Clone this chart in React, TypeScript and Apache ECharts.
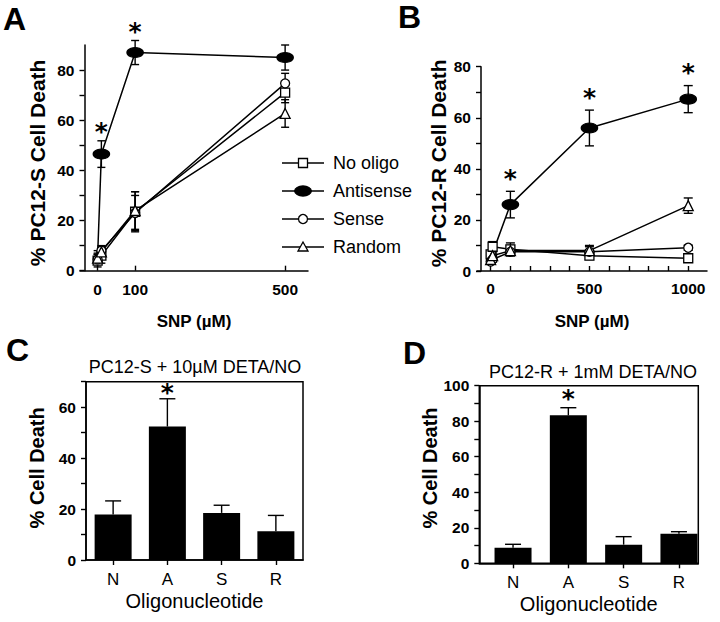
import React, { useEffect, useRef } from 'react';
import * as echarts from 'echarts';

const FONT = '"Liberation Sans", Arial, Helvetica, sans-serif';

// ---------- Panel A: PC12-S, SNP dose ----------
const snpA = [0, 10, 100, 500];
const aNoOligo = [4, 6, 23.5, 71];
const aNoOligoErr = [2.5, 3, 8, 4];
const aAntisense = [6, 46.5, 87, 85];
const aAntisenseErr = [2, 5.3, 4.8, 5];
const aSense = [4.5, 8, 23, 74.7];
const aSenseErr = [2, 2, 7, 4];
const aRandom = [5, 7.5, 24, 62.7];
const aRandomErr = [2, 2, 7.5, 5.5];
const aStarX = [10, 100];
const aAntisenseCoveredX = [0];

// ---------- Panel B: PC12-R, SNP dose ----------
const snpB = [0, 10, 100, 500, 1000];
const bNoOligo = [6.5, 9.5, 8.5, 6, 5];
const bNoOligoErr = [1.5, 2, 2.5, 1.5, 1.5];
const bAntisense = [5, 7, 26, 56, 67.3];
const bAntisenseErr = [1, 1, 5.2, 7, 5.3];
const bSense = [3.7, 4.5, 7.5, 7.5, 9.1];
const bSenseErr = [1, 1, 1.5, 2, 1];
const bRandom = [4.5, 6, 8, 8, 25.6];
const bRandomErr = [1, 1, 2, 2, 3];
const bStarX = [100, 500, 1000];
const bAntisenseCoveredX = [0, 10];

// ---------- Panels C, D: oligonucleotide bars ----------
const oligoCats = ['N', 'A', 'S', 'R'];
const cValues = [17.9, 52.4, 18.5, 11.3];
const cErr = [5.3, 10.9, 3.0, 6.2];
const dValues = [8.8, 83.3, 10.5, 16.7];
const dErr = [1.9, 4.3, 4.5, 1.1];
const starCat = ['A'];

// ---------- tick values ----------
const aXTicks = [0, 100, 500];
const aYLabels = [0, 20, 40, 60, 80];
const aYTicks = [0, 10, 20, 30, 40, 50, 60, 70, 80];
const bXLabels = [0, 500, 1000];
const bXTicks = [0, 100, 200, 300, 400, 500, 600, 700, 800, 900, 1000];
const bYLabels = [0, 20, 40, 60, 80];
const bYTicks = [0, 10, 20, 30, 40, 50, 60, 70, 80];
const cYLabels = [0, 20, 40, 60];
const cYTicks = [0, 10, 20, 30, 40, 50, 60, 70];
const dYLabels = [0, 20, 40, 60, 80, 100];
const dYTicks = [0, 10, 20, 30, 40, 50, 60, 70, 80, 90, 100];
const catIdx = [0, 1, 2, 3];

const seriesNames = ['No oligo', 'Antisense', 'Sense', 'Random'];

const BLACK = '#000';

const symbolSpec: any[] = [
  { symbol: 'rect', size: 9, fill: '#fff' },
  { symbol: 'circle', size: [16, 10], fill: '#000' },
  { symbol: 'circle', size: 9, fill: '#fff' },
  { symbol: 'triangle', size: 10, fill: '#fff' },
];

function lineSeries(idx: number, name: string, xs: number[], ys: number[], k: number, covered: number[]) {
  const s = symbolSpec[k];
  return {
    type: 'line',
    name,
    xAxisIndex: idx,
    yAxisIndex: idx,
    data: xs.map((x, i) =>
      covered.includes(x) ? { value: [x, ys[i]], symbolSize: 0 } : { value: [x, ys[i]] }
    ),
    symbol: s.symbol,
    symbolSize: s.size,
    showSymbol: true,
    z: k === 1 ? 3 : 4,
    lineStyle: { color: BLACK, width: 1.5 },
    itemStyle: { color: s.fill, borderColor: BLACK, borderWidth: 1.3 },
    silent: true,
  };
}

function errSeries(idx: number, xs: number[], ys: number[], es: number[], capW: number, both: boolean) {
  return {
    type: 'custom',
    xAxisIndex: idx,
    yAxisIndex: idx,
    silent: true,
    z: 2,
    data: xs.map((x, i) => [x, ys[i], es[i]]),
    encode: { x: 0, y: 1 },
    renderItem: (_params: any, api: any) => {
      const x = api.value(0);
      const y = api.value(1);
      const e = api.value(2);
      const top = api.coord([x, y + e]);
      const bot = api.coord([x, both ? y - e : y]);
      const h = capW / 2;
      const style = { stroke: BLACK, lineWidth: 1.4, fill: null };
      const children: any[] = [
        { type: 'line', shape: { x1: top[0], y1: top[1], x2: bot[0], y2: bot[1] }, style },
        { type: 'line', shape: { x1: top[0] - h, y1: top[1], x2: top[0] + h, y2: top[1] }, style },
      ];
      if (both) {
        children.push({ type: 'line', shape: { x1: bot[0] - h, y1: bot[1], x2: bot[0] + h, y2: bot[1] }, style });
      }
      return { type: 'group', children };
    },
  };
}

function starSeries(idx: number, pts: number[][], dy: number) {
  return {
    type: 'scatter',
    xAxisIndex: idx,
    yAxisIndex: idx,
    silent: true,
    clip: false,
    z: 6,
    data: pts,
    symbol: 'circle',
    symbolSize: 0.1,
    itemStyle: { color: BLACK, opacity: 1 },
    label: {
      show: true,
      formatter: '*',
      position: 'inside',
      offset: [0, dy],
      color: BLACK,
      opacity: 1,
      fontFamily: '"DejaVu Sans", sans-serif',
      fontWeight: 'bold',
      fontSize: 25,
    },
  };
}

const axisLine = { show: true, onZero: false, lineStyle: { color: BLACK, width: 1.5 } };
const tickLabelStyle = { color: BLACK, fontFamily: FONT, fontWeight: 'bold', fontSize: 15.5 };
const plainNum = (v: number) => String(v);

function valueYAxis(idx: number, max: number, labels: number[], ticks: number[], name: string, nameSize: number, gap: number, offset: number, pad: number[]) {
  return {
    type: 'value',
    gridIndex: idx,
    min: 0,
    max,
    offset,
    axisLine,
    splitLine: { show: false },
    axisTick: { show: true, inside: false, length: 5, customValues: ticks, lineStyle: { color: BLACK, width: 1.4 } },
    axisLabel: { ...tickLabelStyle, margin: 10, customValues: labels, formatter: plainNum },
    name,
    nameLocation: 'middle',
    nameRotate: 90,
    nameGap: gap,
    nameTextStyle: { color: BLACK, fontFamily: FONT, fontWeight: 'bold', fontSize: nameSize, padding: pad },
  };
}

function buildOption() {
  const aSeriesVals = [aNoOligo, aAntisense, aSense, aRandom];
  const aSeriesErr = [aNoOligoErr, aAntisenseErr, aSenseErr, aRandomErr];
  const bSeriesVals = [bNoOligo, bAntisense, bSense, bRandom];
  const bSeriesErr = [bNoOligoErr, bAntisenseErr, bSenseErr, bRandomErr];

  const series: any[] = [];
  seriesNames.forEach((n, k) => {
    series.push(errSeries(0, snpA, aSeriesVals[k], aSeriesErr[k], 8, true));
    series.push(lineSeries(0, n, snpA, aSeriesVals[k], k, k === 1 ? aAntisenseCoveredX : []));
    series.push(errSeries(1, snpB, bSeriesVals[k], bSeriesErr[k], 9, true));
    series.push(lineSeries(1, n, snpB, bSeriesVals[k], k, k === 1 ? bAntisenseCoveredX : []));
  });

  const aStars = aStarX.map((x) => {
    const i = snpA.indexOf(x);
    return [x, aAntisense[i] + aAntisenseErr[i]];
  });
  const bStars = bStarX.map((x) => {
    const i = snpB.indexOf(x);
    return [x, bAntisense[i] + bAntisenseErr[i]];
  });
  series.push(starSeries(0, aStars, -9));
  series.push(starSeries(1, bStars, -13));

  // Panel C bars
  series.push({
    type: 'bar',
    xAxisIndex: 2,
    yAxisIndex: 2,
    data: cValues,
    barWidth: 37,
    silent: true,
    itemStyle: { color: BLACK },
  });
  series.push(errSeries(2, catIdx, cValues, cErr, 16, false));
  series.push(
    starSeries(
      2,
      starCat.map((c) => {
        const i = oligoCats.indexOf(c);
        return [i, cValues[i] + cErr[i]];
      }),
      -6
    )
  );

  // Panel D bars
  series.push({
    type: 'bar',
    xAxisIndex: 3,
    yAxisIndex: 3,
    data: catIdx.map((i) => [i, dValues[i]]),
    barWidth: 37,
    silent: true,
    itemStyle: { color: BLACK },
  });
  series.push(errSeries(3, catIdx, dValues, dErr, 16, false));
  series.push(
    starSeries(
      3,
      starCat.map((c) => {
        const i = oligoCats.indexOf(c);
        return [i, dValues[i] + dErr[i]];
      }),
      -9
    )
  );

  // legend drawn in panel A
  const legendRows = [163, 191, 219, 247];
  const lgX1 = 282;
  const lgX2 = 324;
  const lgM = 303;
  const legendChildren: any[] = [];
  seriesNames.forEach((n, k) => {
    const y = legendRows[k];
    legendChildren.push({ type: 'line', shape: { x1: lgX1, y1: y, x2: lgX2, y2: y }, style: { stroke: BLACK, lineWidth: 1.5 } });
    const st = { stroke: BLACK, lineWidth: 1.3, fill: symbolSpec[k].fill };
    if (k === 0) legendChildren.push({ type: 'rect', shape: { x: lgM - 4.5, y: y - 4.5, width: 9, height: 9 }, style: st });
    if (k === 1) legendChildren.push({ type: 'ellipse', shape: { cx: lgM, cy: y, rx: 8.3, ry: 5 }, style: st });
    if (k === 2) legendChildren.push({ type: 'circle', shape: { cx: lgM, cy: y, r: 4.5 }, style: st });
    if (k === 3)
      legendChildren.push({
        type: 'polygon',
        shape: { points: [[lgM, y - 5], [lgM - 5, y + 4], [lgM + 5, y + 4]] },
        style: st,
      });
    legendChildren.push({
      type: 'text',
      x: 333,
      y,
      style: { text: n, fill: BLACK, fontFamily: FONT, fontSize: 18, align: 'left', verticalAlign: 'middle' },
    });
  });

  const letter = (t: string, x: number, y: number) => ({
    type: 'text',
    x,
    y,
    style: { text: t, fill: BLACK, fontFamily: FONT, fontWeight: 'bold', fontSize: 32, align: 'left', verticalAlign: 'middle' },
  });
  const title = (t: string, x: number, y: number) => ({
    type: 'text',
    x,
    y,
    style: { text: t, fill: BLACK, fontFamily: FONT, fontSize: 18, align: 'center', verticalAlign: 'middle' },
  });

  return {
    animation: false,
    backgroundColor: '#fff',
    grid: [
      { left: 80, top: 45, width: 228, height: 225.7, show: false },
      { left: 477, top: 66.7, width: 230, height: 204.3, show: false },
      { left: 86, top: 381.7, width: 217, height: 178.3, show: true, borderColor: BLACK, borderWidth: 1.5, backgroundColor: 'transparent' },
      { left: 479.3, top: 385.7, width: 219, height: 177.6, show: true, borderColor: BLACK, borderWidth: 1.5, backgroundColor: 'transparent' },
    ],
    xAxis: [
      {
        type: 'value',
        gridIndex: 0,
        min: -47,
        max: 561,
        axisLine,
        splitLine: { show: false },
        axisTick: { show: true, inside: true, length: 5, customValues: aXTicks, lineStyle: { color: BLACK, width: 1.4 } },
        axisLabel: { ...tickLabelStyle, margin: 11, customValues: aXTicks, formatter: plainNum },
        name: 'SNP (µM)',
        nameLocation: 'middle',
        nameGap: 42,
        nameTextStyle: { color: BLACK, fontFamily: FONT, fontWeight: 'bold', fontSize: 17 },
      },
      {
        type: 'value',
        gridIndex: 1,
        min: -69,
        max: 1095,
        axisLine,
        splitLine: { show: false },
        axisTick: { show: true, inside: true, length: 5, customValues: bXTicks, lineStyle: { color: BLACK, width: 1.4 } },
        axisLabel: { ...tickLabelStyle, margin: 9, customValues: bXLabels, formatter: plainNum },
        name: 'SNP (µM)',
        nameLocation: 'middle',
        nameGap: 42,
        nameTextStyle: { color: BLACK, fontFamily: FONT, fontWeight: 'bold', fontSize: 17 },
      },
      {
        type: 'category',
        gridIndex: 2,
        data: oligoCats,
        axisLine,
        axisTick: { show: true, inside: false, length: 5, alignWithLabel: true, lineStyle: { color: BLACK, width: 1.4 } },
        axisLabel: { color: BLACK, fontFamily: FONT, fontSize: 17, margin: 11 },
        name: 'Oligonucleotide',
        nameLocation: 'middle',
        nameGap: 31,
        nameTextStyle: { color: BLACK, fontFamily: FONT, fontSize: 20 },
      },
      {
        type: 'value',
        gridIndex: 3,
        min: -0.61,
        max: 3.35,
        axisLine,
        splitLine: { show: false },
        axisTick: { show: true, inside: false, length: 5, customValues: catIdx, lineStyle: { color: BLACK, width: 1.4 } },
        axisLabel: {
          color: BLACK,
          fontFamily: FONT,
          fontSize: 17,
          margin: 11,
          customValues: catIdx,
          formatter: (v: number) => oligoCats[Math.round(v)] ?? '',
        },
        name: 'Oligonucleotide',
        nameLocation: 'middle',
        nameGap: 31,
        nameTextStyle: { color: BLACK, fontFamily: FONT, fontSize: 20 },
      },
    ],
    yAxis: [
      valueYAxis(0, 90, aYLabels, aYTicks, '% PC12-S Cell Death', 21, 37, -4.5, [0, 10, 0, 0]),
      valueYAxis(1, 80, bYLabels, bYTicks, '% PC12-R Cell Death', 21, 32, -4, [0, 0, 0, 11]),
      valueYAxis(2, 70, cYLabels, cYTicks, '% Cell Death', 20, 39, 0, [0, 0, 0, 6]),
      valueYAxis(3, 100, dYLabels, dYTicks, '% Cell Death', 20, 37, 0, [0, 0, 0, 13]),
    ],
    graphic: [
      letter('A', 3, 18.5),
      letter('B', 398, 17),
      letter('C', 6, 350),
      letter('D', 403, 352.5),
      title('PC12-S + 10µM DETA/NO', 195, 367),
      title('PC12-R + 1mM DETA/NO', 593, 371.7),
      { type: 'group', children: legendChildren },
    ],
    series,
  };
}

export default function App() {
  const ref = useRef<HTMLDivElement>(null);
  useEffect(() => {
    if (!ref.current) return;
    const chart = echarts.init(ref.current, null, { renderer: 'svg' });
    chart.setOption(buildOption() as any);
    return () => chart.dispose();
  }, []);
  return (
    <div
      ref={ref}
      style={{ position: 'fixed', left: 0, top: 0, width: 720, height: 622, background: '#fff' }}
    />
  );
}
